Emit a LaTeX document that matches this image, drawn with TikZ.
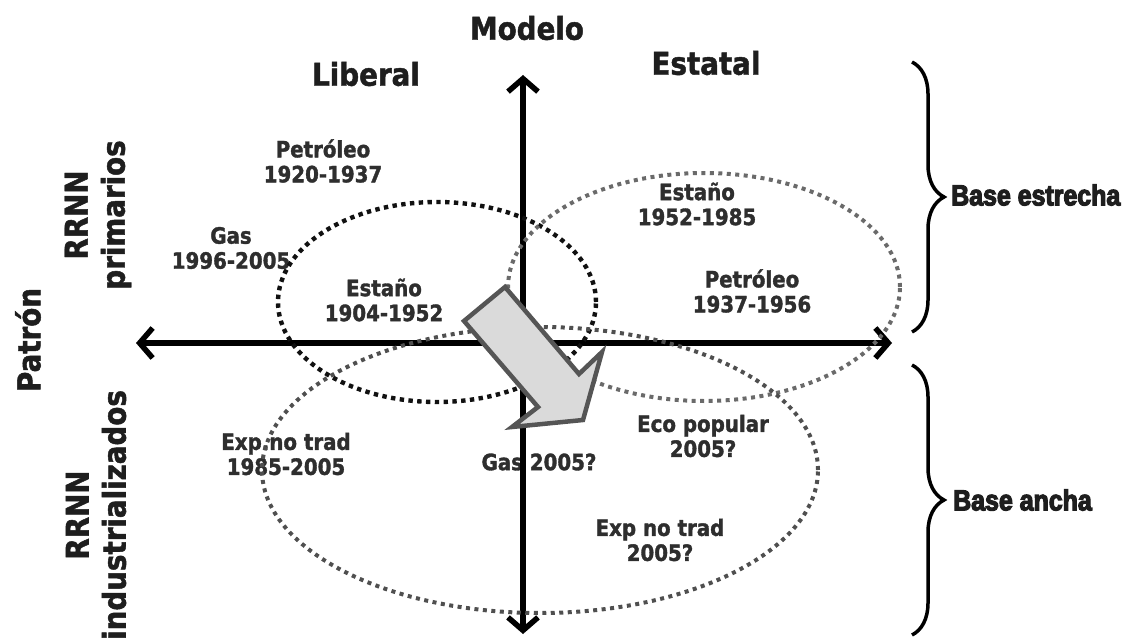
\documentclass[tikz,border=0pt]{standalone}
\usepackage{fontspec}
\setmainfont{DejaVu Sans}[BoldFeatures={FakeStretch=0.88,FakeBold=1.5}]
\newfontfamily\impactfont[FakeStretch=0.86,FakeBold=4]{Liberation Sans}
\usetikzlibrary{arrows.meta,decorations.pathreplacing}
\definecolor{txt}{HTML}{2E2E2E}
\definecolor{ttl}{HTML}{1E1E1E}
\definecolor{dotA}{HTML}{111111}
\definecolor{dotB}{HTML}{6A6A6A}
\definecolor{dotC}{HTML}{4F4F4F}
\definecolor{arrfill}{HTML}{DADADA}
\definecolor{arredge}{HTML}{555555}
\tikzset{
  lbl/.style={text=txt, font=\fontsize{22.5}{25}\selectfont\bfseries, align=center, inner sep=0pt},
  ttl/.style={text=ttl, font=\fontsize{31.5}{37}\selectfont\bfseries, align=center, inner sep=0pt},
  vttl/.style={ttl, rotate=90},
  basetxt/.style={text=ttl, font=\impactfont\bfseries\fontsize{29}{30}\selectfont, anchor=west, inner sep=0pt},
  axisline/.style={line width=5.5pt, {Straight Barb[length=13pt,width=30pt]}-{Straight Barb[length=13pt,width=30pt]}},
  dotsA/.style={draw=dotA, line width=4.4pt, dash pattern=on 4.4pt off 4.4pt},
  dotsB/.style={draw=dotB, line width=4pt, dash pattern=on 4pt off 4.5pt},
  dotsC/.style={draw=dotC, line width=4pt, dash pattern=on 4pt off 4.5pt},
  brc/.style={decorate, decoration={brace, amplitude=32pt}, line width=3.5pt},
  bigarrow/.style={fill=arrfill, draw=arredge, line width=4.5pt, line join=miter},
}
\begin{document}
\begin{tikzpicture}[x=1pt,y=-1pt]
\useasboundingbox (0,0) rectangle (1134,639);

% titles
\node[ttl] (modelo) at (527,28) {Modelo};
\node[ttl] (liberal) at (366,74) {Liberal};
\node[ttl] (estatal) at (706,63) {Estatal};
\node[vttl] (patron) at (28,340) {Patrón};
\node[vttl] (rrnnp) at (98,215) {RRNN\\primarios};
\node[vttl] (rrnni) at (96,515) {RRNN\\industrializados};

% labels
\node[lbl] (pet1) at (323,161) {Petróleo\\1920-1937};
\node[lbl] (gas1) at (231,248) {Gas\\1996-2005};
\node[lbl] (est1) at (384,300) {Estaño\\1904-1952};
\node[lbl] (est2) at (697,204) {Estaño\\1952-1985};
\node[lbl] (pet2) at (752,291) {Petróleo\\1937-1956};
\node[lbl] (exp1) at (286,454) {Exp.no trad\\1985-2005};
\node[lbl] (gas2) at (539,462) {Gas 2005?};
\node[lbl] (eco) at (703,436) {Eco popular\\2005?};
\node[lbl] (exp2) at (660,540) {Exp no trad\\2005?};

% axes
\coordinate (axL) at (136,343);
\coordinate (axR) at (892,343);
\coordinate (axT) at (523,75);
\coordinate (axB) at (523,634);
\draw[axisline] (axL) -- (axR);
\draw[axisline] (axT) -- (axB);

% ellipses
\draw[dotsA] (437,302) ellipse [x radius=159pt, y radius=100pt];
\draw[dotsB] (704,287) ellipse [x radius=196pt, y radius=114pt];
\draw[dotsC] (540,470) ellipse [x radius=278pt, y radius=143pt];

% big arrow
\draw[bigarrow] (505,287) -- (579,374) -- (602,352) -- (583,420) -- (512,427) -- (538,407) -- (464,321) -- cycle;

% braces
\coordinate (b1t) at (912,62);
\coordinate (b1b) at (912,332);
\coordinate (b2t) at (912,365);
\coordinate (b2b) at (912,635);
\draw[brc] (b1t) -- (b1b);
\draw[brc] (b2t) -- (b2b);
\node[basetxt] (bestrecha) at (951,195) {Base estrecha};
\node[basetxt] (bancha) at (953,500) {Base ancha};
\end{tikzpicture}
\end{document}
